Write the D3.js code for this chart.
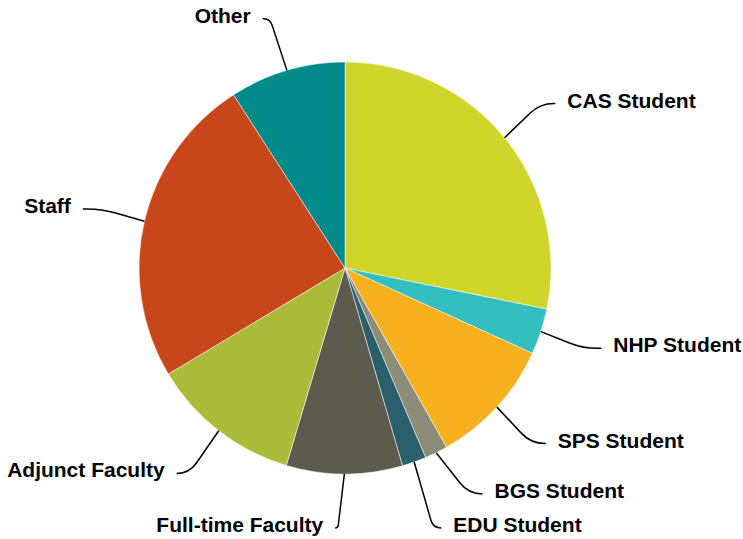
<!DOCTYPE html>
<html>
<head>
<meta charset="utf-8">
<script src="https://cdn.jsdelivr.net/npm/d3@7"></script>
<style>
  html, body { margin: 0; padding: 0; background: #fff; }
  .label { font-family: "Liberation Sans", Arial, sans-serif; font-weight: bold; font-size: 21px; fill: #000; }
</style>
</head>
<body>
<div id="chart"></div>
<script>
// slice data, clockwise from 12 o'clock (percent)
var categories = ["CAS Student", "NHP Student", "SPS Student", "BGS Student", "EDU Student",
                  "Full-time Faculty", "Adjunct Faculty", "Staff", "Other"];
var values = [28.2, 3.6, 10.0, 1.8, 1.9, 9.1, 11.8, 24.5, 9.1];
var colors = ["#cfd629", "#33bec0", "#f7b11f", "#8d8c78", "#2a5f6b",
              "#5d5b4d", "#aabc3a", "#c7471b", "#008a8a"];

var width = 743, height = 539
    , cx = 345, cy = 268
    , radius = 206
    , labelRing = 260
    , labelGap = 34
    , maxLabelY = 260;

var svg = d3.select("#chart").append("svg")
    .attr("width", width)
    .attr("height", height);

var g = svg.append("g")
    .attr("transform", "translate(" + cx + "," + cy + ")");

var pie = d3.pie()
    .sort(null)
    .value(function (d) { return d.value; });

var data = categories.map(function (c, i) {
    return { name: c, value: values[i], color: colors[i] };
});
var arcs = pie(data);

var arc = d3.arc()
    .innerRadius(0)
    .outerRadius(radius);

g.append("g")
    .selectAll("path")
    .data(arcs)
    .enter().append("path")
    .attr("d", arc)
    .attr("fill", function (d) { return d.data.color; })
    .attr("stroke", "#ffffff")
    .attr("stroke-width", 0.5)
    .attr("stroke-linejoin", "round");

// label layout
var labels = arcs.map(function (d) {
    var a = (d.startAngle + d.endAngle) / 2;
    return {
        name: d.data.name,
        angle: a,
        side: a > Math.PI ? -1 : 1,
        y: -labelRing * Math.cos(a),
        ex: radius * Math.sin(a),
        ey: -radius * Math.cos(a)
    };
});

[1, -1].forEach(function (side) {
    var list = labels.filter(function (l) { return l.side === side; })
        .sort(function (a, b) { return a.y - b.y; });
    for (var i = 1; i < list.length; i++) {
        list[i].y = Math.max(list[i].y, list[i - 1].y + labelGap);
    }
    for (var j = list.length - 1; j >= 0; j--) {
        var lim = j === list.length - 1 ? maxLabelY : list[j + 1].y - labelGap;
        list[j].y = Math.min(list[j].y, lim);
    }
});

labels.forEach(function (l) {
    var dxNat = labelRing * Math.abs(Math.sin(l.angle));
    var dxCirc = Math.sqrt(Math.max(labelRing * labelRing - l.y * l.y, 0));
    l.x = l.side * (Math.max(dxNat, dxCirc) + 9);
});

function connector(l) {
    var crookX = l.ex + (l.x - l.ex) * 0.7;
    var d1 = Math.hypot(l.ex - crookX, l.ey - l.y);
    var d2 = Math.abs(l.x - crookX);
    var s = Math.min(d2, d1 / 2, 14);
    var p1 = [crookX + (l.ex - crookX) / d1 * s, l.y + (l.ey - l.y) / d1 * s];
    var p2 = [crookX + l.side * s, l.y];
    return "M" + l.ex + "," + l.ey +
        "L" + p1[0] + "," + p1[1] +
        "Q" + crookX + "," + l.y + " " + p2[0] + "," + p2[1] +
        "L" + l.x + "," + l.y;
}

g.append("g")
    .selectAll("path")
    .data(labels)
    .enter().append("path")
    .attr("d", connector)
    .attr("fill", "none")
    .attr("stroke", "#000")
    .attr("stroke-width", 1.5);

g.append("g")
    .selectAll("text")
    .data(labels)
    .enter().append("text")
    .attr("class", "label")
    .attr("x", function (l) { return l.x + l.side * 12; })
    .attr("y", function (l) { return l.y + 4; })
    .attr("text-anchor", function (l) { return l.side > 0 ? "start" : "end"; })
    .text(function (l) { return l.name; });
</script>
</body>
</html>
